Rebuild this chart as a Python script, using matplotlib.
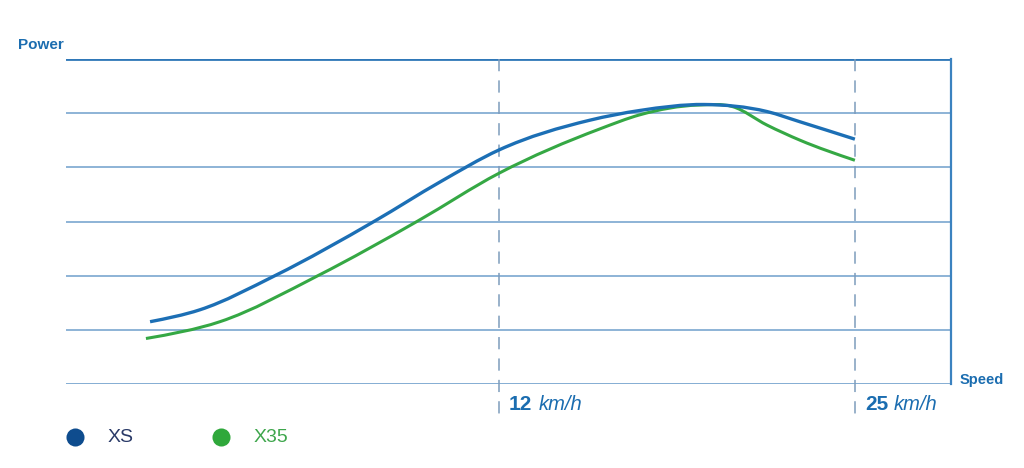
import numpy as np
import matplotlib.pyplot as plt
from matplotlib.lines import Line2D
from matplotlib.path import Path
from matplotlib.patches import PathPatch

plt.rcParams['font.family'] = ['Liberation Sans', 'DejaVu Sans']

# speed (km/h, schematic scale) and power (arbitrary units)
xs_speed = [-0.74, 1.08, 3.82, 7.47, 9.85, 12.0, 15.32, 17.15, 19.5, 21.79, 23.0, 25.0]
xs_power = [1.15, 1.37, 2.0, 3.01, 3.73, 4.32, 4.87, 5.05, 5.16, 5.03, 4.84, 4.52]

x35_speed = [-0.89, 1.81, 5.39, 9.04, 12.0, 15.69, 17.15, 19.3, 20.54, 21.79, 23.0, 25.0]
x35_power = [0.84, 1.15, 2.0, 3.01, 3.89, 4.71, 4.97, 5.15, 5.12, 4.78, 4.5, 4.13]

mark_speeds = [12, 25]
grid_levels = [1, 2, 3, 4, 5]

blue = '#1c6fb5'
green = '#35a844'
grid_c = '#6f9fcc'
text_blue = '#1b6db0'


def smooth_path(x, y):
    ''' cubic hermite bezier path through the points, x is the parameter '''
    x = np.asarray(x, float)
    y = np.asarray(y, float)
    h = np.diff(x)
    d = np.diff(y) / h
    m = np.empty_like(y)
    m[1:-1] = (d[:-1] * h[1:] + d[1:] * h[:-1]) / (h[:-1] + h[1:])
    m[0] = (3 * d[0] - m[1]) / 2
    m[-1] = (3 * d[-1] - m[-2]) / 2
    verts = [(x[0], y[0])]
    codes = [Path.MOVETO]
    for i in range(len(x) - 1):
        verts += [(x[i] + h[i] / 3, y[i] + m[i] * h[i] / 3),
                  (x[i + 1] - h[i] / 3, y[i + 1] - m[i + 1] * h[i] / 3),
                  (x[i + 1], y[i + 1])]
        codes += [Path.CURVE4] * 3
    return Path(verts, codes)


fig = plt.figure(figsize=(10.24, 4.68), dpi=100)
ax = fig.add_axes([66/1024, 1-384/468, 885/1024, 325/468])
ax.set_xlim(-3.81, 28.51)
ax.set_ylim(0, 6)
ax.axis('off')

for g in grid_levels:
    ax.axhline(g, color=grid_c, lw=1.1, zorder=1)
ax.axhline(0, color=grid_c, lw=1.2, zorder=1)
ax.axhline(6, color='#2f78b8', lw=2.0, zorder=1)
ax.plot([28.51, 28.51], [0, 6], color='#3b82c0', lw=1.6, clip_on=False, zorder=1)

for s in mark_speeds:
    ax.plot([s, s], [6, -0.55], color='#7d9cbc', lw=1.1, ls=(0, (8, 6)),
            clip_on=False, zorder=1)

ax.add_patch(PathPatch(smooth_path(x35_speed, x35_power), fill=False, ec=green,
                       lw=2.2, capstyle='butt', zorder=2))
ax.add_patch(PathPatch(smooth_path(xs_speed, xs_power), fill=False, ec=blue,
                       lw=2.4, capstyle='butt', zorder=3))

fig.text(18/1024, 1-45/468, 'Power', color=text_blue, fontsize=11, fontweight='bold',
         va='center')
fig.text(960/1024, 1-380/468, 'Speed', color=text_blue, fontsize=10.5, fontweight='bold',
         va='center')

fig.canvas.draw()
for s in mark_speeds:
    xf = ax.transData.transform((s, 0))[0] / 1024 + 10/1024
    t = fig.text(xf, 1-405/468, str(s), color=text_blue, fontsize=15,
                 fontweight='bold', va='center')
    bb = t.get_window_extent(renderer=fig.canvas.get_renderer())
    fig.text(bb.x1/1024 + 6/1024, 1-405/468, 'km/h', color=text_blue, fontsize=14.5,
             style='italic', va='center')

# legend
for cx, col, lab, tcol in [(75, '#0e4c8e', 'XS', '#2a3a68'), (221, '#2fa83b', 'X35', '#3ea64c')]:
    fig.add_artist(Line2D([cx/1024], [1-437/468], marker='o', ms=13, color=col,
                          markeredgewidth=0, transform=fig.transFigure))
    fig.text((cx+33)/1024, 1-437/468, lab, color=tcol, fontsize=14, va='center')

fig.savefig('out.png', dpi=100)
